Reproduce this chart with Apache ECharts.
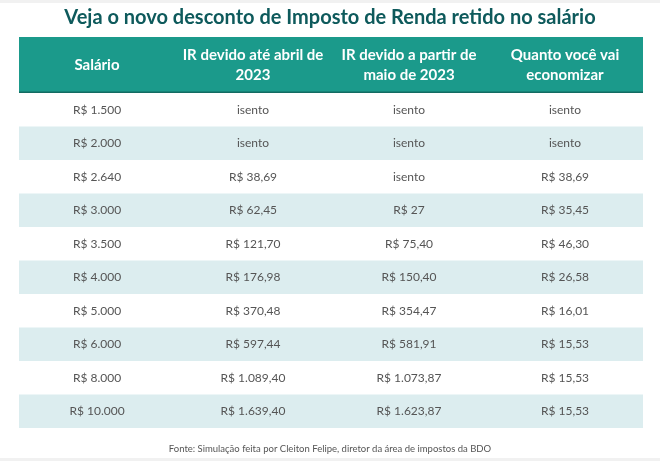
<!DOCTYPE html>
<html><head><meta charset="utf-8">
<script src="https://cdn.jsdelivr.net/npm/echarts@6/dist/echarts.min.js"></script>
<style>html,body{margin:0;padding:0;background:#fff}#c{width:660px;height:461px}</style>
</head><body><div id="c"></div>
<script>
const titleText = 'Veja o novo desconto de Imposto de Renda retido no salário';
const sourceText = 'Fonte: Simulação feita por Cleiton Felipe, diretor da área de impostos da BDO';
const headers = ['Salário', 'IR devido até abril de\n2023', 'IR devido a partir de\nmaio de 2023', 'Quanto você vai\neconomizar'];
const salario = ['R$ 1.500','R$ 2.000','R$ 2.640','R$ 3.000','R$ 3.500','R$ 4.000','R$ 5.000','R$ 6.000','R$ 8.000','R$ 10.000'];
const irAteAbril = ['isento','isento','R$ 38,69','R$ 62,45','R$ 121,70','R$ 176,98','R$ 370,48','R$ 597,44','R$ 1.089,40','R$ 1.639,40'];
const irAPartirMaio = ['isento','isento','isento','R$ 27','R$ 75,40','R$ 150,40','R$ 354,47','R$ 581,91','R$ 1.073,87','R$ 1.623,87'];
const economia = ['isento','isento','R$ 38,69','R$ 35,45','R$ 46,30','R$ 26,58','R$ 16,01','R$ 15,53','R$ 15,53','R$ 15,53'];

const columns = [salario, irAteAbril, irAPartirMaio, economia];
const colIdx = headers.map((_, i) => String(i));
const rowIdx = salario.map((_, i) => String(i));

const bodyData = [];
columns.forEach((col, c) => col.forEach((v, r) => bodyData.push([c, r, v])));
const headData = headers.map((h, c) => [c, 0, h]);

const FONT = 'Lato';
const chart = echarts.init(document.getElementById('c'), null, {renderer: 'canvas'});

function cellRenderer(isHeader) {
  return function (params, api) {
    const c = api.value(0), r = api.value(1);
    const text = isHeader ? headers[c] : columns[c][r];
    const p = api.coord([c, r]);
    const s = api.size([1, 1]);
    const w = s[0], h = s[1];
    const fill = isHeader ? '#1b9a8b' : (r % 2 === 1 ? '#dcedef' : '#ffffff');
    const children = [{
      type: 'rect',
      shape: {x: p[0] - w / 2, y: p[1] - h / 2, width: w, height: h},
      style: {fill: fill}
    }];
    if (isHeader) {
      children.push({
        type: 'rect',
        shape: {x: p[0] - w / 2, y: p[1] + h / 2 - 1.5, width: w, height: 1.5},
        style: {fill: '#136b62'}
      });
    }
    children.push({
      type: 'text',
      x: p[0], y: p[1],
      style: {
        text: text,
        align: 'center', verticalAlign: 'middle',
        fill: isHeader ? '#ffffff' : '#555555',
        font: isHeader ? ('bold 15px ' + FONT) : ('12px ' + FONT),
        lineHeight: 20
      }
    });
    return {type: 'group', children: children};
  };
}

const hiddenAxis = {show: false};
chart.setOption({
  animation: false,
  title: [{
    text: titleText, left: 'center', top: 3,
    textStyle: {color: '#0e5a5c', fontSize: 20, fontWeight: 'bold', fontFamily: FONT}
  }, {
    text: sourceText, left: 'center', top: 439,
    textStyle: {color: '#555555', fontSize: 9.5, fontWeight: 'normal', fontFamily: FONT}
  }],
  graphic: [
    {type: 'rect', left: 0, top: 0, shape: {width: 660, height: 3}, style: {fill: '#f1f1f1'}, silent: true},
    {type: 'rect', left: 0, top: 458, shape: {width: 660, height: 3}, style: {fill: '#f1f1f1'}, silent: true}
  ],
  grid: [
    {left: 19, right: 17, top: 37, height: 56},
    {left: 19, right: 17, top: 93, height: 335}
  ],
  xAxis: [
    Object.assign({type: 'category', data: colIdx, gridIndex: 0}, hiddenAxis),
    Object.assign({type: 'category', data: colIdx, gridIndex: 1}, hiddenAxis)
  ],
  yAxis: [
    Object.assign({type: 'category', data: ['0'], gridIndex: 0, inverse: true}, hiddenAxis),
    Object.assign({type: 'category', data: rowIdx, gridIndex: 1, inverse: true}, hiddenAxis)
  ],
  series: [
    {type: 'custom', xAxisIndex: 0, yAxisIndex: 0, data: headData, renderItem: cellRenderer(true), silent: true},
    {type: 'custom', xAxisIndex: 1, yAxisIndex: 1, data: bodyData, renderItem: cellRenderer(false), silent: true}
  ]
});
</script></body></html>
